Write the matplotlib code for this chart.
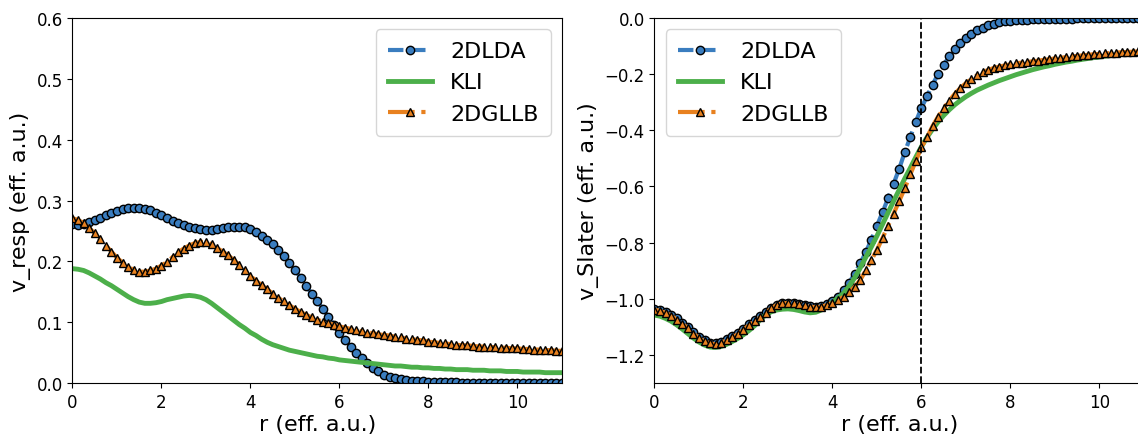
import matplotlib
matplotlib.use('agg')
import matplotlib.pyplot as plt
import numpy as np

# radial mesh shared by every curve (eff. a.u.)
r = np.linspace(0.0, 11.0, 89)

# response potentials, left panel
resp_lda = [
    0.261, 0.260, 0.262, 0.265, 0.268, 0.272, 0.276, 0.280,
    0.283, 0.286, 0.287, 0.288, 0.288, 0.286, 0.284, 0.280,
    0.276, 0.272, 0.267, 0.263, 0.259, 0.256, 0.254, 0.253,
    0.252, 0.252, 0.253, 0.255, 0.256, 0.257, 0.257, 0.256,
    0.253, 0.248, 0.242, 0.235, 0.228, 0.219, 0.209, 0.198,
    0.186, 0.173, 0.160, 0.147, 0.135, 0.122, 0.109, 0.096,
    0.083, 0.071, 0.060, 0.050, 0.041, 0.033, 0.025, 0.019,
    0.014, 0.010, 0.008, 0.006, 0.005, 0.004, 0.003, 0.0025,
    0.002, 0.0018, 0.0015, 0.0013, 0.001, 0.0009, 0.0008, 0.0007,
    0.0006, 0.0005, 0.0004, 0.0003, 0.0003, 0.0002, 0.0002, 0.0001,
    0.0001, 0.0001, 0.0, 0.0, 0.0, 0.0, 0.0, 0.0,
    0.0]
resp_kli = [
    0.188, 0.187, 0.185, 0.181, 0.176, 0.171, 0.165, 0.160,
    0.154, 0.148, 0.142, 0.137, 0.133, 0.131, 0.131, 0.132,
    0.134, 0.137, 0.139, 0.141, 0.143, 0.144, 0.143, 0.141,
    0.137, 0.131, 0.124, 0.117, 0.110, 0.103, 0.096, 0.090,
    0.083, 0.078, 0.072, 0.067, 0.063, 0.060, 0.057, 0.054,
    0.052, 0.050, 0.048, 0.046, 0.044, 0.043, 0.041, 0.040,
    0.038, 0.037, 0.036, 0.035, 0.034, 0.033, 0.032, 0.031,
    0.030, 0.029, 0.028, 0.028, 0.027, 0.026, 0.026, 0.025,
    0.025, 0.024, 0.024, 0.023, 0.023, 0.022, 0.022, 0.022,
    0.021, 0.021, 0.021, 0.020, 0.020, 0.020, 0.019, 0.019,
    0.019, 0.018, 0.018, 0.018, 0.018, 0.017, 0.017, 0.017,
    0.017]
resp_gllb = [
    0.271, 0.268, 0.263, 0.255, 0.246, 0.236, 0.226, 0.216,
    0.206, 0.198, 0.191, 0.186, 0.183, 0.183, 0.185, 0.188,
    0.193, 0.199, 0.207, 0.215, 0.221, 0.226, 0.230, 0.232,
    0.232, 0.228, 0.222, 0.216, 0.210, 0.202, 0.194, 0.185,
    0.176, 0.168, 0.161, 0.154, 0.147, 0.140, 0.134, 0.128,
    0.122, 0.117, 0.112, 0.108, 0.104, 0.101, 0.098, 0.096,
    0.093, 0.091, 0.089, 0.087, 0.085, 0.083, 0.082, 0.080,
    0.079, 0.078, 0.076, 0.075, 0.073, 0.072, 0.071, 0.070,
    0.068, 0.067, 0.066, 0.065, 0.064, 0.063, 0.062, 0.062,
    0.061, 0.060, 0.060, 0.059, 0.059, 0.058, 0.058, 0.057,
    0.057, 0.056, 0.056, 0.055, 0.055, 0.054, 0.054, 0.053,
    0.053]

# slater potentials, right panel
slater_lda = [
    -1.035, -1.040, -1.047, -1.057, -1.070, -1.085, -1.101, -1.119,
    -1.135, -1.148, -1.156, -1.158, -1.154, -1.145, -1.134, -1.122,
    -1.107, -1.091, -1.076, -1.062, -1.047, -1.032, -1.021, -1.015,
    -1.014, -1.015, -1.018, -1.023, -1.027, -1.028, -1.025, -1.018,
    -1.008, -0.993, -0.970, -0.943, -0.910, -0.874, -0.834, -0.789,
    -0.740, -0.692, -0.642, -0.590, -0.537, -0.478, -0.424, -0.369,
    -0.320, -0.279, -0.237, -0.200, -0.167, -0.137, -0.112, -0.089,
    -0.071, -0.056, -0.043, -0.034, -0.026, -0.020, -0.015, -0.012,
    -0.010, -0.008, -0.007, -0.006, -0.005, -0.004, -0.004, -0.003,
    -0.003, -0.002, -0.002, -0.002, -0.001, -0.001, -0.001, -0.001,
    -0.001, 0.0, 0.0, 0.0, 0.0, 0.0, 0.0, 0.0,
    0.0]
slater_kli = [
    -1.058, -1.062, -1.070, -1.080, -1.093, -1.108, -1.124, -1.140,
    -1.154, -1.165, -1.172, -1.173, -1.170, -1.162, -1.152, -1.141,
    -1.128, -1.113, -1.096, -1.075, -1.057, -1.046, -1.040, -1.037,
    -1.036, -1.038, -1.042, -1.047, -1.050, -1.048, -1.040, -1.028,
    -1.012, -0.997, -0.980, -0.955, -0.925, -0.890, -0.852, -0.815,
    -0.776, -0.735, -0.693, -0.652, -0.612, -0.572, -0.534, -0.495,
    -0.458, -0.425, -0.396, -0.370, -0.347, -0.327, -0.309, -0.294,
    -0.280, -0.268, -0.257, -0.248, -0.239, -0.231, -0.223, -0.216,
    -0.209, -0.202, -0.196, -0.190, -0.184, -0.179, -0.174, -0.170,
    -0.165, -0.161, -0.157, -0.154, -0.150, -0.147, -0.144, -0.141,
    -0.139, -0.136, -0.134, -0.132, -0.130, -0.128, -0.126, -0.124,
    -0.122]
slater_gllb = [
    -1.039, -1.043, -1.050, -1.060, -1.074, -1.089, -1.105, -1.124,
    -1.140, -1.152, -1.159, -1.162, -1.157, -1.147, -1.137, -1.126,
    -1.110, -1.094, -1.080, -1.066, -1.050, -1.034, -1.022, -1.016,
    -1.015, -1.015, -1.018, -1.023, -1.028, -1.030, -1.028, -1.022,
    -1.015, -1.005, -0.993, -0.977, -0.957, -0.933, -0.899, -0.862,
    -0.826, -0.784, -0.740, -0.697, -0.652, -0.607, -0.557, -0.509,
    -0.461, -0.425, -0.385, -0.351, -0.322, -0.294, -0.270, -0.249,
    -0.232, -0.217, -0.204, -0.193, -0.185, -0.178, -0.173, -0.169,
    -0.165, -0.161, -0.159, -0.157, -0.154, -0.152, -0.149, -0.147,
    -0.144, -0.142, -0.139, -0.137, -0.135, -0.133, -0.131, -0.129,
    -0.128, -0.126, -0.125, -0.123, -0.122, -0.121, -0.120, -0.119,
    -0.118]

r_cut = 6.0

BLUE = '#3a7dbf'
GREEN = '#4caf4a'
ORANGE = '#e8811f'


#draw the three functionals on one axes
def drawCurves(ax, lda, kli, gllb):
    ax.plot(r, lda, '--o', color=BLUE, lw=3, ms=6, mec='k', mew=1, label='2DLDA')
    ax.plot(r, kli, '-', color=GREEN, lw=3.5, label='KLI')
    ax.plot(r, gllb, '-.^', color=ORANGE, lw=3, ms=6, mec='k', mew=1, label='2DGLLB')
    ax.set_xlim(0, 11)
    ax.set_xticks([0, 2, 4, 6, 8, 10])
    ax.set_xlabel('r (eff. a.u.)', fontsize=16, labelpad=2)
    ax.tick_params(labelsize=12)


fig = plt.figure(figsize=(11.38, 4.35), dpi=100)
ax1 = fig.add_axes([0.0637, 0.1172, 0.4301, 0.8391])
ax2 = fig.add_axes([0.5751, 0.1172, 0.4301, 0.8391])

drawCurves(ax1, resp_lda, resp_kli, resp_gllb)
ax1.set_ylim(0, 0.6)
ax1.set_ylabel('v_resp (eff. a.u.)', fontsize=16)
ax1.legend(loc='upper right', fontsize=16, borderpad=0.55)

drawCurves(ax2, slater_lda, slater_kli, slater_gllb)
ax2.axvline(r_cut, color='k', ls='--', lw=1.3)
ax2.set_ylim(-1.3, 0)
ax2.set_yticks([-1.2, -1.0, -0.8, -0.6, -0.4, -0.2, 0.0])
ax2.set_ylabel('v_Slater (eff. a.u.)', fontsize=16)
ax2.legend(loc='upper left', fontsize=16, borderpad=0.55)

plt.savefig('out.png', dpi=100)
